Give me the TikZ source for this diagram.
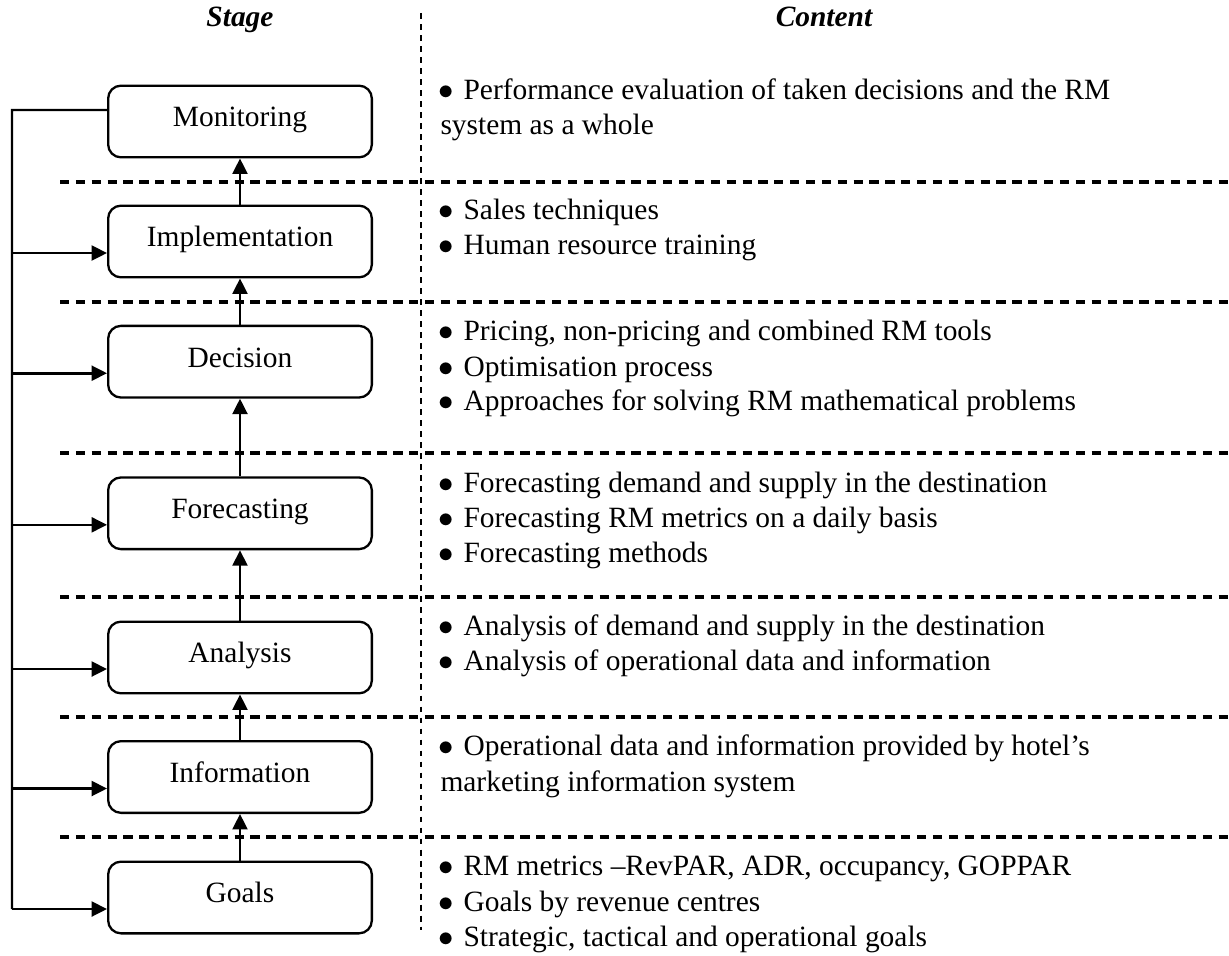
\documentclass[tikz,border=0pt]{standalone}
\usepackage{fontspec}
\setmainfont{Liberation Serif}
\usetikzlibrary{arrows.meta}
\newcommand{\bul}{\makebox[9pt][l]{\hspace{-0.6pt}$\bullet$}}
\newcommand{\txtfont}{\fontsize{11.5}{13.8}\selectfont}
\begin{document}
\begin{tikzpicture}[x=0.390625pt,y=-0.390625pt,
  stagebox/.style={draw, line width=0.9pt, rounded corners=5pt,
    minimum width=103pt, minimum height=28pt, text height=7pt, text depth=2.8pt,
    inner sep=0pt, font=\txtfont},
  flow/.style={-{Triangle[length=6pt,width=5.8pt]}, line width=1pt},
  rail/.style={line width=0.9pt},
  sep/.style={dash pattern=on 3.6pt off 2.6pt, line width=1.2pt},
  vsep/.style={dash pattern=on 2.3pt off 2pt, line width=0.6pt},
  item/.style={anchor=base west, inner sep=0pt, font=\txtfont},
  head/.style={anchor=base, inner sep=0pt, font=\txtfont\bfseries\itshape}]
\useasboundingbox (0,0) rectangle (1229,955);

% headers
\node[head] (hstage) at (240,27) {Stage};
\node[head] (hcontent) at (824,27) {Content};

% separators
\coordinate (vtop) at (421,13);
\coordinate (vbot) at (421,930);
\draw[vsep] (vtop) -- (vbot);
\foreach \yy [count=\i] in {182,302,453,597,717,837}{
  \coordinate (sl\i) at (60,\yy);
  \coordinate (sr\i) at (1229,\yy);
  \draw[sep] (sl\i) -- (sr\i);
}

% stage boxes
\node[stagebox] (monitoring) at (240,121.5) {Monitoring};
\node[stagebox] (implementation) at (240,241.5) {Implementation};
\node[stagebox] (decision) at (240,361.7) {Decision};
\node[stagebox] (forecasting) at (240,513.3) {Forecasting};
\node[stagebox] (analysis) at (240,657.5) {Analysis};
\node[stagebox] (information) at (240,777) {Information};
\node[stagebox] (goals) at (240,897.5) {Goals};

% upward flow
\draw[flow] (goals) -- (information);
\draw[flow] (information) -- (analysis);
\draw[flow] (analysis) -- (forecasting);
\draw[flow] (forecasting) -- (decision);
\draw[flow] (decision) -- (implementation);
\draw[flow] (implementation) -- (monitoring);

% feedback rail
\coordinate (mout) at ([yshift=4.5pt]monitoring.west);
\coordinate (railtop) at (12,110);
\foreach \n in {implementation,decision,forecasting,analysis,information,goals}{
  \coordinate (\n-in) at ([yshift=-4.5pt]\n.west);
}
\draw[rail] (mout) -- (railtop) -- (railtop |- goals-in);
\foreach \n in {implementation,decision,forecasting,analysis,information,goals}{
  \draw[flow] (railtop |- \n-in) -- (\n-in);
}

% content
\node[item] (c1a) at (440,100) {\bul Performance evaluation of taken decisions and the RM};
\node[item] (c1b) at (440,135) {system as a whole};
\node[item] (c2a) at (440,220) {\bul Sales techniques};
\node[item] (c2b) at (440,255) {\bul Human resource training};
\node[item] (c3a) at (440,341) {\bul Pricing, non-pricing and combined RM tools};
\node[item] (c3b) at (440,376) {\bul Optimisation process};
\node[item] (c3c) at (440,410) {\bul Approaches for solving RM mathematical problems};
\node[item] (c4a) at (440,492) {\bul Forecasting demand and supply in the destination};
\node[item] (c4b) at (440,527) {\bul Forecasting RM metrics on a daily basis};
\node[item] (c4c) at (440,562) {\bul Forecasting methods};
\node[item] (c5a) at (440,635) {\bul Analysis of demand and supply in the destination};
\node[item] (c5b) at (440,670) {\bul Analysis of operational data and information};
\node[item] (c6a) at (440,755) {\bul Operational data and information provided by hotel’s};
\node[item] (c6b) at (440,791) {marketing information system};
\node[item] (c7a) at (440,875) {\bul RM metrics –RevPAR, ADR, occupancy, GOPPAR};
\node[item] (c7b) at (440,911) {\bul Goals by revenue centres};
\node[item] (c7c) at (440,946) {\bul Strategic, tactical and operational goals};
\end{tikzpicture}
\end{document}
